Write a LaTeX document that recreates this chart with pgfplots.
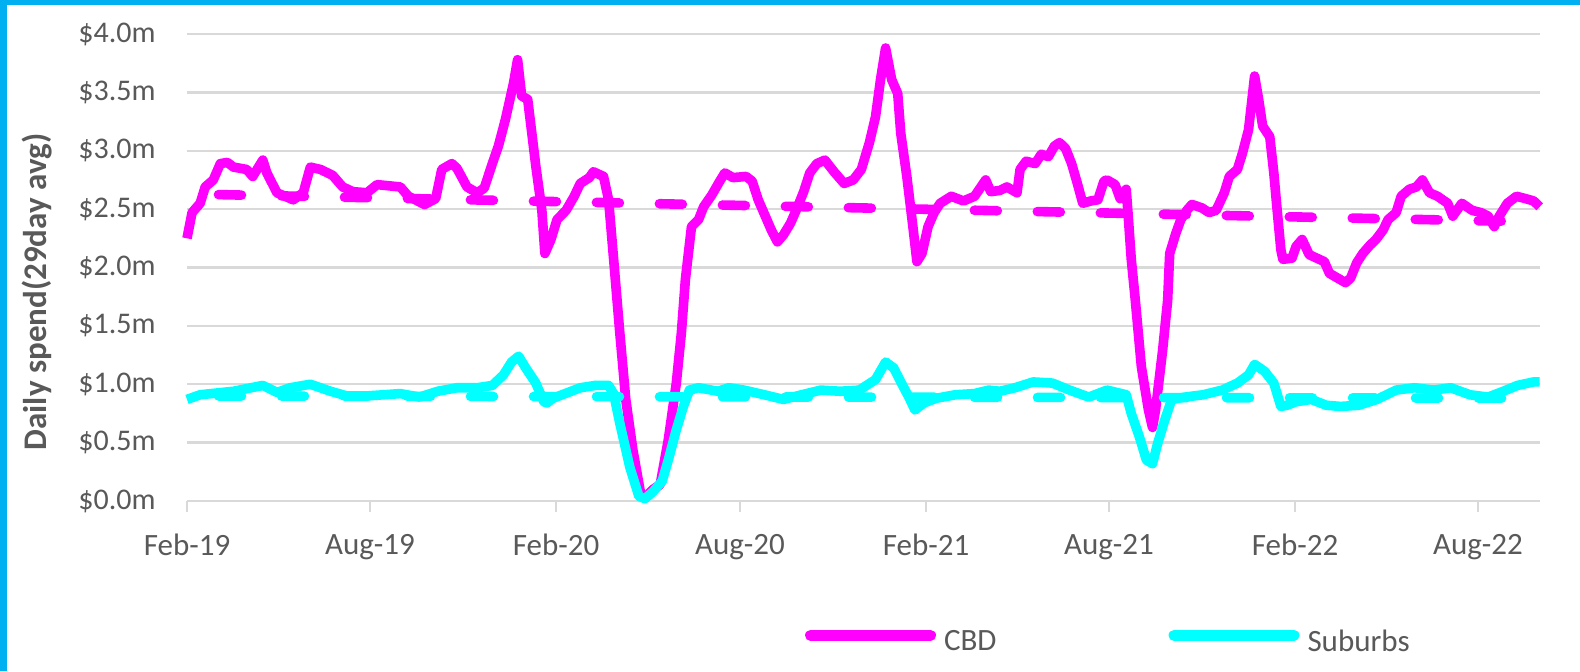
\documentclass[border=0pt]{standalone}
\usepackage{fontspec}
\setmainfont{Carlito}
\usepackage{pgfplots}
\usepackage{pgfplotstable}
\pgfplotsset{compat=1.18}
\definecolor{cbd}{HTML}{FF00FF}
\definecolor{sub}{HTML}{00FFFF}
\definecolor{gridc}{HTML}{D9D9D9}
\definecolor{txt}{HTML}{595959}
\definecolor{framec}{HTML}{00B0F0}

\pgfplotstableread{
day val
0 2.25
5 2.47
13 2.55
18 2.69
26 2.75
33 2.89
40 2.90
46 2.86
59 2.84
65 2.78
75 2.92
79 2.81
89 2.64
105 2.58
115 2.64
122 2.86
132 2.84
144 2.79
154 2.69
164 2.65
178 2.64
188 2.71
211 2.69
219 2.61
235 2.54
246 2.59
252 2.84
262 2.89
267 2.85
277 2.69
287 2.64
294 2.68
302 2.89
308 3.04
315 3.27
323 3.58
327 3.78
331 3.47
337 3.44
345 2.87
351 2.49
354 2.12
360 2.24
366 2.41
375 2.49
383 2.61
389 2.72
398 2.77
402 2.82
412 2.78
417 2.58
422 2.07
428 1.45
434 0.87
441 0.44
449 0.05
453 0.03
461 0.10
468 0.14
476 0.52
484 1.01
489 1.44
493 1.90
499 2.35
506 2.41
511 2.52
519 2.62
527 2.74
532 2.81
540 2.77
553 2.78
559 2.74
565 2.58
572 2.44
578 2.32
584 2.22
590 2.28
597 2.38
604 2.52
610 2.65
616 2.81
623 2.89
631 2.92
640 2.82
650 2.72
659 2.75
667 2.84
675 3.07
681 3.29
686 3.61
691 3.88
697 3.61
703 3.49
706 3.15
712 2.78
718 2.35
722 2.05
727 2.12
733 2.35
739 2.47
745 2.55
756 2.61
768 2.57
779 2.61
790 2.75
795 2.65
804 2.66
811 2.69
821 2.64
824 2.84
830 2.91
839 2.89
845 2.97
852 2.95
858 3.04
863 3.07
869 3.02
875 2.89
881 2.71
886 2.55
894 2.57
901 2.58
907 2.74
910 2.75
918 2.71
923 2.59
929 2.67
931 2.44
934 2.07
938 1.72
944 1.15
951 0.78
955 0.63
958 0.78
965 1.29
970 1.72
972 2.12
978 2.29
983 2.41
989 2.49
994 2.54
1004 2.51
1011 2.47
1018 2.49
1026 2.64
1031 2.78
1039 2.84
1044 2.98
1050 3.18
1053 3.41
1056 3.64
1060 3.44
1064 3.21
1071 3.12
1075 2.81
1078 2.52
1082 2.15
1084 2.07
1093 2.08
1097 2.18
1103 2.24
1110 2.11
1115 2.09
1125 2.05
1130 1.95
1138 1.91
1146 1.87
1151 1.91
1157 2.04
1163 2.12
1170 2.19
1176 2.24
1183 2.32
1188 2.41
1196 2.47
1201 2.61
1209 2.67
1216 2.69
1222 2.75
1229 2.64
1237 2.61
1247 2.55
1252 2.44
1261 2.55
1271 2.49
1280 2.47
1287 2.44
1293 2.35
1298 2.44
1306 2.55
1315 2.61
1324 2.59
1332 2.57
1338 2.52
}\cbdtable

\pgfplotstableread{
day val
0 0.87
13 0.91
46 0.94
75 0.99
89 0.93
102 0.97
122 1.00
142 0.94
158 0.90
178 0.90
211 0.92
230 0.89
248 0.94
267 0.97
287 0.97
302 0.99
313 1.08
321 1.19
328 1.24
335 1.14
345 1.01
353 0.85
356 0.84
362 0.88
374 0.92
389 0.97
404 0.99
417 0.99
422 0.92
428 0.67
438 0.29
447 0.04
453 0.02
461 0.08
470 0.17
476 0.35
484 0.61
491 0.81
497 0.95
506 0.97
525 0.94
536 0.97
551 0.95
571 0.91
590 0.87
608 0.91
627 0.95
646 0.94
665 0.95
681 1.04
691 1.19
699 1.14
706 1.02
714 0.89
720 0.78
729 0.84
741 0.88
760 0.91
779 0.92
793 0.95
804 0.94
819 0.97
837 1.02
856 1.01
873 0.95
892 0.89
910 0.95
929 0.91
934 0.75
942 0.55
949 0.35
955 0.32
960 0.49
967 0.69
974 0.87
987 0.89
1005 0.91
1024 0.95
1039 1.01
1050 1.08
1056 1.17
1066 1.11
1075 1.01
1082 0.81
1088 0.82
1097 0.85
1112 0.87
1127 0.82
1141 0.81
1159 0.82
1177 0.87
1196 0.95
1214 0.97
1233 0.95
1250 0.97
1269 0.91
1287 0.89
1302 0.94
1316 0.99
1332 1.02
1338 1.02
}\subtable

\begin{document}
\begin{tikzpicture}[x=1pt,y=1pt]
\path[use as bounding box, fill=white] (0,0) rectangle (790,335.5);
\fill[framec] (0,0) rectangle (3.3,335.5);
\fill[framec] (0,333) rectangle (790,335.5);
\begin{axis}[
  at={(93.5pt,85pt)}, anchor=south west,
  scale only axis, width=676.5pt, height=233.5pt,
  xmin=0, xmax=1338.3, ymin=0, ymax=4,
  clip=false,
  axis line style={draw=none},
  ymajorgrids,
  grid style={gridc, line width=1.2pt},
  xtick={0,181,365,547,731,912,1096,1277},
  xticklabels={Feb-19,Aug-19,Feb-20,Aug-20,Feb-21,Aug-21,Feb-22,Aug-22},
  ytick={0,0.5,1,1.5,2,2.5,3,3.5,4},
  yticklabels={\$0.0m,\$0.5m,\$1.0m,\$1.5m,\$2.0m,\$2.5m,\$3.0m,\$3.5m,\$4.0m},
  xtick pos=bottom, ytick pos=left,
  tick align=outside,
  major tick length=5.5pt,
  xtick style={gridc, line width=1.2pt},
  ytick style={draw=none},
  yticklabel style={font=\fontsize{15}{18}\selectfont, text=txt, inner sep=0pt, anchor=east, xshift=-10pt},
  xticklabel style={font=\fontsize{15.5}{18}\selectfont, text=txt, inner sep=0pt, anchor=north, yshift=-11pt},
  ylabel={Daily spend(29day avg)},
  every axis y label/.style={at={(axis description cs:-0.1109,0.4475)}, rotate=90, anchor=center,
    font=\fontsize{16.5}{19}\selectfont\bfseries, text=txt},
  legend columns=2,
  legend style={at={(axis description cs:0.4565,-0.3019)}, anchor=west, draw=none, fill=none,
    inner sep=0pt, font=\fontsize{15.5}{18}\selectfont, text=txt,
    nodes={inner sep=0pt},
    /tikz/every odd column/.append style={column sep=4pt},
    /tikz/every even column/.append style={column sep=86pt}},
  legend image code/.code={\draw[#1, line width=5.5pt, line cap=round] (0pt,0.33em) -- (60pt,0.33em);},
]
\addplot[cbd, line width=4.8pt, line join=round, line cap=butt] table[x=day, y=val] {\cbdtable};
\addlegendentry{CBD}
\addplot[forget plot, cbd, line width=4.8pt, line cap=round, dash pattern=on 11.5pt off 20pt, dash phase=15.75pt] coordinates {(0,2.63) (1338,2.39)};
\addplot[sub, line width=4.8pt, line join=round, line cap=butt] table[x=day, y=val] {\subtable};
\addlegendentry{Suburbs}
\addplot[forget plot, sub, line width=4.8pt, line cap=round, dash pattern=on 11.5pt off 20pt, dash phase=15.75pt] coordinates {(0,0.90) (1338,0.88)};
\end{axis}
\end{tikzpicture}
\end{document}
